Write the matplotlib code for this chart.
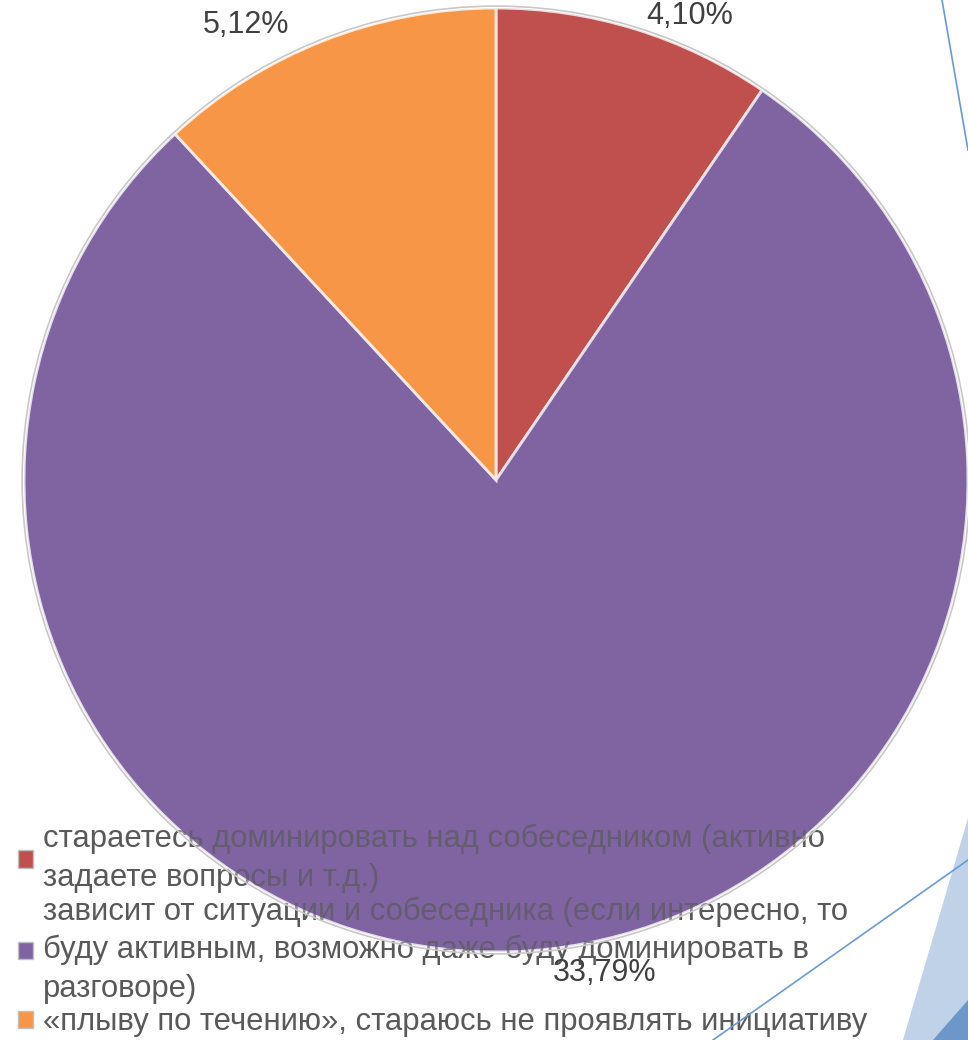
import matplotlib
matplotlib.use('Agg')
import matplotlib.pyplot as plt
import numpy as np
from matplotlib.patches import Patch, Polygon, Circle
from matplotlib.lines import Line2D

# ---- data ----
categories = [
    "стараетесь доминировать над собеседником (активно\nзадаете вопросы и т.д.)",
    "зависит от ситуации и собеседника (если интересно, то\nбуду активным, возможно даже буду доминировать в\nразговоре)",
    "«плыву по течению», стараюсь не проявлять инициативу",
]
values = [4.10, 33.79, 5.12]
value_labels = ["4,10%", "33,79%", "5,12%"]
colors = ["#C0504D", "#8064A2", "#F79646"]

plt.rcParams['font.family'] = ['Liberation Sans', 'DejaVu Sans']

W, H = 968, 1040
fig = plt.figure(figsize=(W / 100, H / 100), dpi=100)
ax = fig.add_axes([0, 0, 1, 1])

cx, cy, R = 496, 480, 472  # pixel centre and radius

wedges, _ = ax.pie(values, colors=colors, startangle=90, counterclock=False,
                   radius=1, wedgeprops=dict(edgecolor='white', linewidth=2))
ax.set_xlim(-cx / R, (W - cx) / R)
ax.set_ylim((cy - H) / R, cy / R)
ax.set_aspect('auto')
ax.axis('off')

# outer thin grey ring
ax.add_patch(Circle((0, 0), 1.004, fill=False, edgecolor='#C8C8C8', lw=1.2, zorder=3.5))

# data labels (Excel style outside end)
angle_offsets = [-5.5, 8.1, 7.4]
label_dist = [1.066, 1.07, 1.10]
for w, lab, off, d in zip(wedges, value_labels, angle_offsets, label_dist):
    mid = np.deg2rad((w.theta1 + w.theta2) / 2 + off)
    ax.text(d * np.cos(mid), d * np.sin(mid), lab, ha='center', va='center',
            fontsize=22, color='#404040', zorder=6)

# legend (drawn under a translucent copy of the pie)
handles = [Patch(facecolor=c, edgecolor='#BFBFBF', linewidth=1) for c in colors]
leg = ax.legend(handles, categories, loc='upper left',
                bbox_to_anchor=(18 / W, 1 - 824 / H), bbox_transform=fig.transFigure,
                frameon=False, fontsize=22.3, handlelength=0.5, handleheight=0.5,
                handletextpad=0.3, labelspacing=0.12, borderpad=0, borderaxespad=0,
                labelcolor='#595959')
for t in leg.get_texts():
    t.set_linespacing(1.36)
leg.set_zorder(2)

over, _ = ax.pie(values, colors=colors, startangle=90, counterclock=False,
                 radius=1, wedgeprops=dict(edgecolor='white', linewidth=2, alpha=0.3))
for w in over:
    w.set_zorder(3)
ax.set_xlim(-cx / R, (W - cx) / R)
ax.set_ylim((cy - H) / R, cy / R)
ax.set_aspect('auto')


def fp(x, y):
    return (x / W, 1 - y / H)


# slide decorations
light = Polygon([fp(968, 818), fp(903, 1040), fp(968, 1040)], closed=True,
                transform=fig.transFigure, facecolor='#C0D2E8', edgecolor='none', zorder=7)
dark = Polygon([fp(968, 1000), fp(933, 1040), fp(968, 1040)], closed=True,
               transform=fig.transFigure, facecolor='#6D97C9', edgecolor='none', zorder=7)
fig.add_artist(light)
fig.add_artist(dark)
for (x1, y1), (x2, y2) in [((942, 0), (968, 150)), ((713, 1040), (968, 860))]:
    a, b = fp(x1, y1), fp(x2, y2)
    fig.add_artist(Line2D([a[0], b[0]], [a[1], b[1]], transform=fig.transFigure,
                          color='#6A9AD6', lw=1.2, zorder=8))

fig.savefig('out.png', dpi=100)
